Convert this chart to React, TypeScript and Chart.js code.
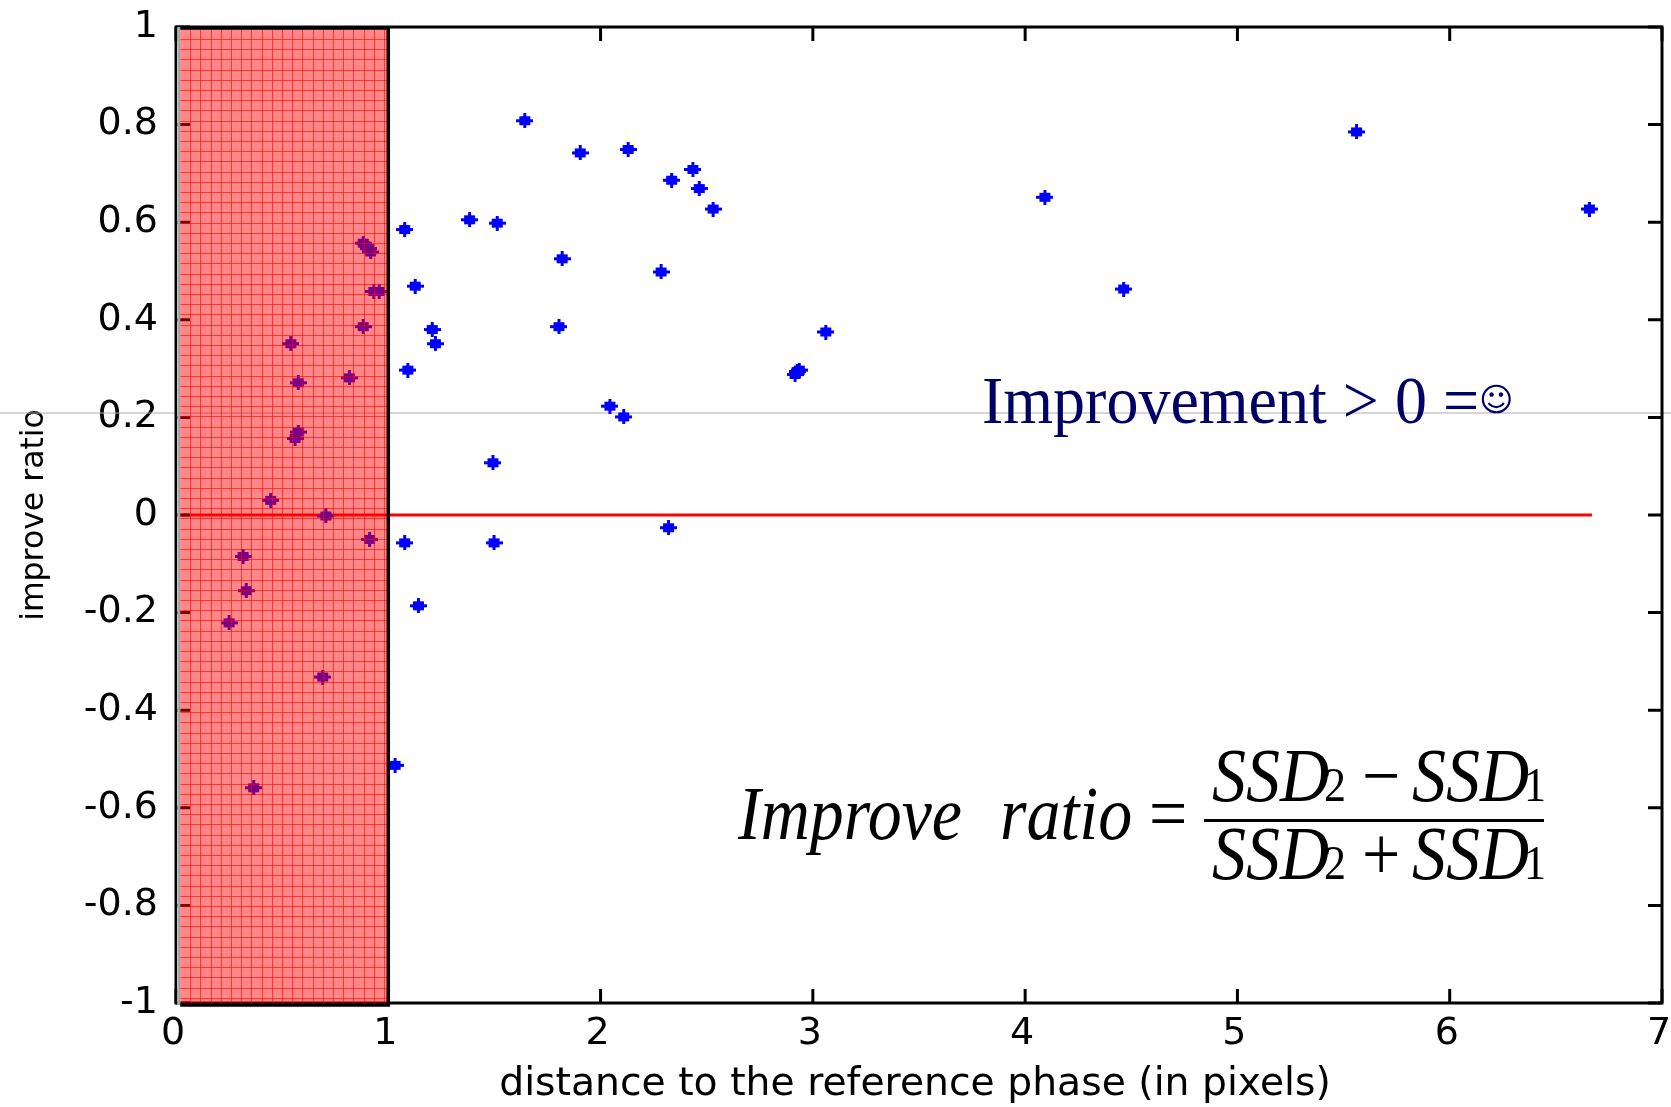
import React, { useEffect, useRef } from "react";
import { Chart, registerables } from "chart.js";

Chart.register(...registerables);

const seriesX = [
  1.643, 1.904, 2.13, 2.335, 2.435, 2.465, 2.53, 4.093, 5.561, 6.658, 4.464,
  1.077, 1.383, 1.513, 1.819, 2.285, 1.127, 1.207, 1.222, 1.804, 1.092, 3.061,
  2.916, 2.926, 2.936, 2.044, 2.109, 1.493, 1.498, 1.077, 2.32, 1.142, 1.032,
  0.882, 0.907, 0.917, 0.932, 0.957, 0.882, 0.541, 0.576, 0.817, 0.576, 0.561,
  0.446, 0.706, 0.912, 0.316, 0.331, 0.25, 0.691, 0.366,
];
const seriesY = [
  0.808, 0.742, 0.749, 0.686, 0.708, 0.669, 0.627, 0.651, 0.785, 0.627, 0.463,
  0.585, 0.605, 0.598, 0.525, 0.498, 0.469, 0.38, 0.351, 0.386, 0.297, 0.375,
  0.288, 0.294, 0.297, 0.223, 0.201, 0.107, -0.057, -0.057, -0.026, -0.186, -0.513,
  0.557, 0.546, 0.539, 0.458, 0.458, 0.386, 0.351, 0.271, 0.281, 0.17, 0.157,
  0.03, -0.002, -0.05, -0.085, -0.155, -0.221, -0.332, -0.559,
];
const zeroLineX = [0, 6.67];
const zeroLineY = [0, 0];
const xTicks = [0, 1, 2, 3, 4, 5, 6, 7];
const yTicks = [1, 0.8, 0.6, 0.4, 0.2, 0, -0.2, -0.4, -0.6, -0.8, -1];
const bandX = [0.02, 1];
const grayLineY = 0.209;
const xTitle = "distance to the reference phase (in pixels)";

const FONT = "'DejaVu Sans'";
const SERIF = "'Liberation Serif'";

function makeMarker() {
  const c = document.createElement("canvas");
  c.width = 17;
  c.height = 15;
  const g = c.getContext("2d")!;
  g.fillStyle = "#0000ff";
  g.fillRect(0, 6, 17, 3);
  g.fillRect(3, 3, 11, 9);
  g.fillRect(7, 0, 3, 15);
  return c;
}

function txt(
  ctx: CanvasRenderingContext2D,
  s: string,
  x: number,
  y: number,
  font: string,
  color: string,
  sy = 1
) {
  ctx.save();
  ctx.translate(x, y);
  ctx.scale(1, sy);
  ctx.font = font;
  ctx.fillStyle = color;
  ctx.textAlign = "left";
  ctx.textBaseline = "alphabetic";
  ctx.fillText(s, 0, 0);
  ctx.restore();
}

const decor = {
  id: "decor",
  beforeDatasetsDraw(chart: any) {
    const { ctx, scales } = chart;
    const y = scales.y.getPixelForValue(grayLineY);
    ctx.save();
    ctx.strokeStyle = "#aaaab4";
    ctx.lineWidth = 1;
    ctx.beginPath();
    ctx.moveTo(0, y);
    ctx.lineTo(chart.width, y);
    ctx.stroke();
    ctx.restore();
  },
  afterDatasetsDraw(chart: any) {
    const { ctx, scales, chartArea: a } = chart;
    const { x: sx, y: sy } = scales;
    ctx.save();
    // x tick labels and axis title
    ctx.fillStyle = "#000";
    ctx.textAlign = "center";
    ctx.textBaseline = "middle";
    ctx.font = `38px ${FONT}`;
    xTicks.forEach((v) => {
      ctx.fillText(String(v), sx.getPixelForValue(v) - 3, 1034);
    });
    ctx.font = `39.3px ${FONT}`;
    ctx.fillText(xTitle, 915, 1085);

    // frame and inward ticks
    ctx.strokeStyle = "#000";
    ctx.lineWidth = 3;
    ctx.strokeRect(a.left, a.top, a.right - a.left, a.bottom - a.top);
    const L = 14;
    ctx.beginPath();
    xTicks.forEach((v) => {
      const p = sx.getPixelForValue(v);
      ctx.moveTo(p, a.top);
      ctx.lineTo(p, a.top + L);
      ctx.moveTo(p, a.bottom);
      ctx.lineTo(p, a.bottom - L);
    });
    yTicks.forEach((v) => {
      const p = sy.getPixelForValue(v);
      ctx.moveTo(a.left, p);
      ctx.lineTo(a.left + L, p);
      ctx.moveTo(a.right, p);
      ctx.lineTo(a.right - L, p);
    });
    ctx.stroke();

    // translucent red band with its fine grid
    const x0 = sx.getPixelForValue(bandX[0]);
    const x1 = sx.getPixelForValue(bandX[1]);
    const top = a.top;
    const bottom = a.bottom + 2;
    ctx.fillStyle = "#ffffff";
    ctx.fillRect(a.left + 1.5, top, x0 - a.left - 1.5, bottom - top);
    ctx.fillStyle = "rgba(255,0,0,0.47)";
    ctx.fillRect(x0, top, x1 - x0, bottom - top);
    ctx.strokeStyle = "rgba(255,0,0,0.6)";
    ctx.lineWidth = 1;
    ctx.beginPath();
    for (let px = x0 + 10; px < x1; px += 10.2) {
      ctx.moveTo(Math.round(px) + 0.5, top);
      ctx.lineTo(Math.round(px) + 0.5, bottom);
    }
    for (let py = top + 12; py < bottom; py += 10.2) {
      ctx.moveTo(x0, Math.round(py) + 0.5);
      ctx.lineTo(x1, Math.round(py) + 0.5);
    }
    ctx.stroke();
    ctx.strokeStyle = "#000";
    ctx.lineWidth = 3.5;
    ctx.beginPath();
    ctx.moveTo(x0, top + 1);
    ctx.lineTo(x1, top + 1);
    ctx.lineTo(x1, bottom);
    ctx.lineTo(x0, bottom);
    ctx.stroke();
    ctx.strokeStyle = "#9a9a9a";
    ctx.lineWidth = 2;
    ctx.beginPath();
    ctx.moveTo(x0 - 1, top);
    ctx.lineTo(x0 - 1, bottom);
    ctx.stroke();
    ctx.restore();

    // annotations
    const navy = "#000066";
    const black = "#000";
    txt(ctx, "Improvement > 0 =", 982, 423, `64px ${SERIF}`, navy, 1.05);
    txt(ctx, "\u263A", 1479, 411, `33px ${FONT}`, navy);
    const it = `italic 68px ${SERIF}`;
    const sub = `44px ${SERIF}`;
    const up = `68px ${SERIF}`;
    const sc = 1.12;
    txt(ctx, "Improve", 738, 839, it, black, sc);
    txt(ctx, "ratio", 1000, 839, it, black, sc);
    txt(ctx, "=", 1149, 839, up, black, sc);
    ctx.save();
    ctx.fillStyle = black;
    ctx.fillRect(1204, 819, 340, 3);
    ctx.restore();
    [
      [801, "\u2212"],
      [879, "+"],
    ].forEach(([by, op]) => {
      const b = by as number;
      txt(ctx, "SSD", 1212, b, it, black, sc);
      txt(ctx, "2", 1324, b, sub, black, sc);
      txt(ctx, op as string, 1362, b, up, black, sc);
      txt(ctx, "SSD", 1412, b, it, black, sc);
      txt(ctx, "1", 1524, b, sub, black, sc);
    });
  },
};

export default function App() {
  const ref = useRef<HTMLCanvasElement>(null);
  useEffect(() => {
    document.body.style.margin = "0";
    const marker = makeMarker();
    const chart = new Chart(ref.current!, {
      type: "scatter",
      data: {
        datasets: [
          {
            type: "line",
            label: "zero",
            data: zeroLineX.map((x, i) => ({ x, y: zeroLineY[i] })),
            borderColor: "#ff0000",
            borderWidth: 3,
            pointRadius: 0,
            order: 2,
          },
          {
            label: "improve ratio",
            data: seriesX.map((x, i) => ({ x, y: seriesY[i] })),
            pointStyle: marker as any,
            pointRadius: 8,
            backgroundColor: "#0000ff",
            borderColor: "#0000ff",
            order: 1,
          },
        ],
      },
      options: {
        animation: false,
        responsive: false,
        devicePixelRatio: 1,
        layout: { padding: { left: 0, right: 6, top: 27, bottom: 0 } },
        plugins: { legend: { display: false }, tooltip: { enabled: false } },
        scales: {
          x: {
            type: "linear",
            min: 0,
            max: 7,
            afterBuildTicks: (s: any) => {
              s.ticks = xTicks.map((value) => ({ value }));
            },
            afterFit: (s: any) => {
              s.height = 104;
            },
            grid: { display: false, drawTicks: false },
            border: { display: false },
            ticks: { display: false },
            title: { display: false },
          },
          y: {
            type: "linear",
            min: -1,
            max: 1,
            afterBuildTicks: (s: any) => {
              s.ticks = yTicks.map((value) => ({ value }));
            },
            afterFit: (s: any) => {
              s.width = 176;
              s.paddingTop = 0;
              s.paddingBottom = 0;
            },
            grid: { display: false, drawTicks: false },
            border: { display: false },
            ticks: {
              color: "#000",
              padding: 18,
              font: { family: FONT, size: 38 },
              callback: (v: any) => String(Math.round(v * 10) / 10),
            },
            title: {
              display: true,
              text: "improve ratio",
              color: "#000",
              font: { family: FONT, size: 31.5 },
              padding: { top: 16, bottom: 0 },
            },
          },
        },
      },
      plugins: [decor],
    });
    return () => chart.destroy();
  }, []);
  return (
    <canvas
      ref={ref}
      width={1671}
      height={1107}
      style={{ display: "block", width: 1671, height: 1107 }}
    />
  );
}
